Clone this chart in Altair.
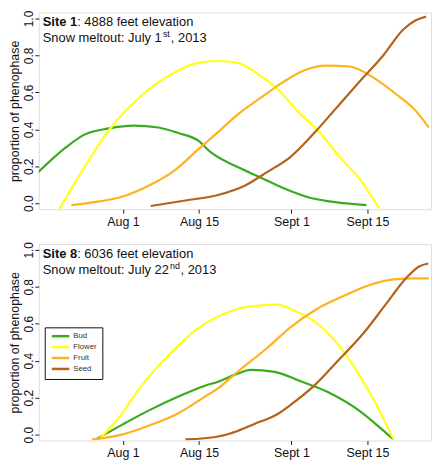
import altair as alt
import pandas as pd

FONT = "Liberation Sans"
PHASES = ["Bud", "Flower", "Fruit", "Seed"]
COLORS = ["#3aab1c", "#ffff1a", "#ffb21e", "#b5621b"]

# x = days since Aug 1
TICK_DAYS = [0, 14, 31, 45]
TICK_LABELS = ["Aug 1", "Aug 15", "Sept 1", "Sept 15"]
Y_TICKS = [0.0, 0.2, 0.4, 0.6, 0.8, 1.0]

# ---- Site 1 ----
S1_BUD_DAY = [-15.9, -10.4, -7.2, -2.6, 2.0, 6.5, 10.2, 13.8, 16.2, 21.1, 25.3, 29.7, 34.4, 39.4, 44.8]
S1_BUD_VAL = [0.16, 0.305, 0.37, 0.405, 0.42, 0.41, 0.38, 0.34, 0.275, 0.196, 0.14, 0.08, 0.03, 0.005, -0.01]
S1_FLO_DAY = [-11.7, -7.2, -2.6, 2.9, 8.4, 13.8, 17.5, 21.1, 25.3, 28.4, 32.1, 36.3, 39.9, 43.6, 47.2]
S1_FLO_VAL = [-0.03, 0.19, 0.395, 0.57, 0.69, 0.76, 0.77, 0.76, 0.69, 0.62, 0.5, 0.38, 0.25, 0.13, -0.03]
S1_FRU_DAY = [-9.5, -4.4, -0.2, 4.7, 9.6, 13.8, 17.5, 21.1, 25.3, 29.7, 33.4, 37.5, 41.7, 46.1, 50.3, 53.9, 56.3]
S1_FRU_VAL = [-0.01, 0.01, 0.035, 0.095, 0.18, 0.29, 0.385, 0.48, 0.57, 0.66, 0.72, 0.745, 0.74, 0.68, 0.59, 0.5, 0.41]
S1_SEE_DAY = [5.1, 11.5, 17.5, 22.4, 26.6, 30.8, 35.2, 39.4, 43.6, 47.9, 51.6, 53.9, 55.8]
S1_SEE_VAL = [-0.015, 0.015, 0.045, 0.095, 0.17, 0.25, 0.38, 0.52, 0.66, 0.8, 0.94, 0.99, 1.01]

# ---- Site 8 ----
S8_BUD_DAY = [-5.0, -0.2, 4.7, 10.2, 15.1, 17.5, 21.1, 23.5, 27.9, 32.6, 37.5, 43.6, 46.7, 49.8]
S8_BUD_VAL = [-0.026, 0.053, 0.13, 0.206, 0.265, 0.286, 0.33, 0.35, 0.34, 0.29, 0.233, 0.127, 0.053, -0.026]
S8_FLO_DAY = [-4.4, -0.8, 3.4, 8.9, 13.8, 17.5, 21.1, 22.4, 28.4, 31.5, 35.7, 39.9, 43.6, 46.7, 49.8]
S8_FLO_VAL = [-0.026, 0.09, 0.265, 0.444, 0.575, 0.64, 0.68, 0.69, 0.704, 0.672, 0.603, 0.476, 0.317, 0.159, -0.026]
S8_FRU_DAY = [-5.7, -0.2, 4.7, 10.2, 15.1, 17.5, 21.1, 26.6, 30.8, 35.7, 40.6, 45.4, 49.8, 53.9, 56.3]
S8_FRU_VAL = [-0.026, 0.0, 0.048, 0.116, 0.206, 0.25, 0.34, 0.47, 0.58, 0.68, 0.75, 0.81, 0.84, 0.846, 0.846]
S8_SEE_DAY = [11.5, 17.5, 21.1, 24.2, 28.4, 30.8, 35.2, 39.9, 44.3, 48.5, 52.1, 54.5, 56.2]
S8_SEE_VAL = [-0.026, -0.01, 0.02, 0.058, 0.11, 0.16, 0.265, 0.41, 0.55, 0.71, 0.846, 0.91, 0.926]

SITE_NAMES = ["Site 1", "Site 8"]
ELEVATIONS = [": 4888 feet elevation", ": 6036 feet elevation"]
MELTOUT = ["Snow meltout: July 1", "Snow meltout: July 22"]
SUPERSCRIPTS = ["st", "nd"]
YEARS = [", 2013", ", 2013"]


def frame(series):
    rows = []
    for phase, (days, vals) in zip(PHASES, series):
        for i, (d, v) in enumerate(zip(days, vals)):
            rows.append({"day": d, "value": v, "phase": phase, "i": i})
    return pd.DataFrame(rows)


label_expr = " : ".join(
    f"datum.value == {d} ? '{l}'" for d, l in zip(TICK_DAYS, TICK_LABELS)
) + " : ''"


def text(t, x, y, size=13, bold=False):
    return alt.Chart(pd.DataFrame({"t": [t]})).mark_text(
        align="left", baseline="middle", font=FONT, fontSize=size,
        fontWeight="bold" if bold else "normal", color="#111",
    ).encode(x=alt.value(x), y=alt.value(y), text="t:N")


def panel(series, k, legend):
    df = frame(series)
    lines = alt.Chart(df).mark_line(strokeWidth=2.2, interpolate="monotone", clip=True).encode(
        x=alt.X("day:Q",
                scale=alt.Scale(domain=[-15.5, 56.7], nice=False, zero=False),
                axis=alt.Axis(values=TICK_DAYS, labelExpr=label_expr, title=None, grid=False,
                              domain=False, tickSize=4, tickColor="#222", labelPadding=2,
                              labelFont=FONT, labelFontSize=12.5, labelColor="#111")),
        y=alt.Y("value:Q",
                scale=alt.Scale(domain=[-0.032, 1.032], nice=False, zero=False),
                axis=alt.Axis(values=Y_TICKS, format=".1f", title="proportion of phenophase",
                              grid=False, domain=False, tickSize=4, tickColor="#222",
                              labelAngle=270, labelAlign="center", labelBaseline="alphabetic",
                              labelPadding=2, labelFont=FONT, labelFontSize=12, labelColor="#111",
                              titleFont=FONT, titleFontSize=12.5, titleFontWeight="normal",
                              titleColor="#111", titlePadding=1)),
        color=alt.Color("phase:N", scale=alt.Scale(domain=PHASES, range=COLORS), legend=legend),
        order="i:Q",
    )
    sup_x = 5 + (120 if k == 0 else 127.2)
    year_x = sup_x + (8 if k == 0 else 10.5)
    layers = [
        lines,
        text(SITE_NAMES[k], 4, 10, bold=True),
        text(ELEVATIONS[k], 38.7, 10),
        text(MELTOUT[k], 4, 26),
        text(SUPERSCRIPTS[k], sup_x, 21.8, size=9),
        text(YEARS[k], year_x, 26),
    ]
    return alt.layer(*layers).properties(width=395, height=198)


legend = alt.Legend(
    title=None, orient="none", legendX=6, legendY=84,
    symbolType="M-4.4,0H4.4", symbolSize=16, symbolStrokeWidth=2.5,
    labelFont=FONT, labelFontSize=7.8, labelColor="#333", labelOffset=9,
    rowPadding=0, padding=5, strokeColor="#111", fillColor="white", symbolOffset=7,
)

top = panel([(S1_BUD_DAY, S1_BUD_VAL), (S1_FLO_DAY, S1_FLO_VAL),
             (S1_FRU_DAY, S1_FRU_VAL), (S1_SEE_DAY, S1_SEE_VAL)], 0, None)
bottom = panel([(S8_BUD_DAY, S8_BUD_VAL), (S8_FLO_DAY, S8_FLO_VAL),
                (S8_FRU_DAY, S8_FRU_VAL), (S8_SEE_DAY, S8_SEE_VAL)], 1, legend)

chart = alt.vconcat(top, bottom, spacing=13).resolve_scale(color="independent").resolve_legend(
    color="independent"
).properties(
    padding={"left": 0, "top": 0, "right": 0, "bottom": 0}
).configure_view(stroke="#222", strokeWidth=1.5).configure(background="white")

chart.save("out.html", embed_options={"renderer": "svg", "actions": False})
